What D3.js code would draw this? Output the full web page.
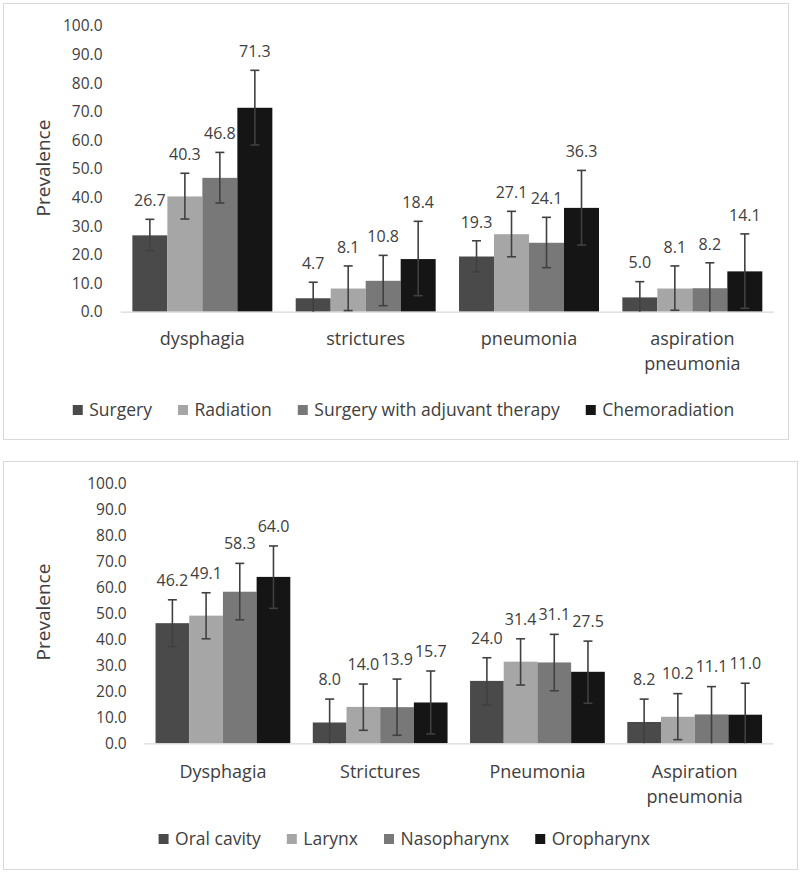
<!DOCTYPE html>
<html>
<head>
<meta charset="utf-8">
<script src="https://cdn.jsdelivr.net/npm/d3@7"></script>
<style>
  html, body { margin: 0; padding: 0; background: #fff; }
  svg { display: block; }
  text { font-family: "Open Sans", "DejaVu Sans", sans-serif; fill: #404040; }
</style>
</head>
<body>
<svg id="chart" width="800" height="873"></svg>
<script>
// ---------- Data ----------
const yTicks = [0, 10, 20, 30, 40, 50, 60, 70, 80, 90, 100];
const yLabel = "Prevalence";

const topCategories = ["dysphagia", "strictures", "pneumonia", "aspiration pneumonia"];
const topSeries = ["Surgery", "Radiation", "Surgery with adjuvant therapy", "Chemoradiation"];
const topSurgery      = [26.7, 4.7, 19.3, 5.0];
const topRadiation    = [40.3, 8.1, 27.1, 8.1];
const topSurgeryAdj   = [46.8, 10.8, 24.1, 8.2];
const topChemo        = [71.3, 18.4, 36.3, 14.1];
const topSurgeryLow   = [21.3, 0.0, 14.0, 0.0];
const topRadiationLow = [32.4, 0.4, 19.2, 0.5];
const topSurgeryAdjLow= [38.0, 2.1, 15.4, 0.0];
const topChemoLow     = [58.3, 5.6, 23.3, 1.2];
const topSurgeryHigh  = [32.3, 10.3, 24.8, 10.5];
const topRadiationHigh= [48.4, 16.0, 35.1, 16.0];
const topSurgeryAdjHigh=[55.7, 19.7, 33.0, 17.1];
const topChemoHigh    = [84.4, 31.6, 49.4, 27.2];

const botCategories = ["Dysphagia", "Strictures", "Pneumonia", "Aspiration pneumonia"];
const botSeries = ["Oral cavity", "Larynx", "Nasopharynx", "Oropharynx"];
const botOral      = [46.2, 8.0, 24.0, 8.2];
const botLarynx    = [49.1, 14.0, 31.4, 10.2];
const botNaso      = [58.3, 13.9, 31.1, 11.1];
const botOro       = [64.0, 15.7, 27.5, 11.0];
const botOralLow   = [37.2, 0.0, 14.8, 0.0];
const botLarynxLow = [40.2, 5.0, 22.4, 1.4];
const botNasoLow   = [47.5, 3.1, 20.2, 0.0];
const botOroLow    = [51.9, 3.6, 15.4, 0.0];
const botOralHigh  = [55.2, 17.0, 32.9, 17.0];
const botLarynxHigh= [57.9, 22.8, 40.2, 19.1];
const botNasoHigh  = [69.2, 24.7, 41.9, 21.8];
const botOroHigh   = [75.9, 27.8, 39.3, 23.1];

const seriesColors = ["#4a4a4a", "#a6a6a6", "#787878", "#151515"];

// ---------- Drawing ----------
const svg = d3.select("#chart");

function drawChart(cfg) {
  const g = svg.append("g");
  // frame
  g.append("rect")
    .attr("x", cfg.frame[0] + 0.5).attr("y", cfg.frame[1] + 0.5)
    .attr("width", cfg.frame[2] - cfg.frame[0]).attr("height", cfg.frame[3] - cfg.frame[1])
    .attr("fill", "#fff").attr("stroke", "#d9d9d9").attr("stroke-width", 1);

  const x0 = d3.scaleBand().domain(cfg.categories).range(cfg.xRange)
    .paddingInner(0.143).paddingOuter(0.0715);
  const x1 = d3.scaleBand().domain(cfg.series).range([0, x0.bandwidth()]).padding(0);
  const y = d3.scaleLinear().domain([0, 100]).range(cfg.yRange);

  // y axis (labels only)
  const yAxis = d3.axisLeft(y).tickValues(yTicks).tickFormat(d3.format(".1f")).tickSize(0).tickPadding(0);
  const ya = g.append("g").attr("transform", `translate(${cfg.yLabelRight},0)`).call(yAxis);
  ya.select(".domain").remove();
  ya.selectAll("text").attr("font-size", "15.5px").attr("fill", "#404040")
    .attr("font-family", "'Open Sans', sans-serif").attr("dy", "0.34em");

  // y title
  g.append("text")
    .attr("transform", `translate(${cfg.yTitle[0]},${cfg.yTitle[1]}) rotate(-90)`)
    .attr("text-anchor", "middle").attr("dy", "0.35em")
    .attr("font-size", "19px").text(yLabel);

  // bars
  const data = [];
  cfg.series.forEach((s, si) => {
    cfg.categories.forEach((c, ci) => {
      data.push({ s, si, c, v: cfg.values[si][ci], lo: cfg.low[si][ci], hi: cfg.high[si][ci] });
    });
  });

  g.append("g").selectAll("rect").data(data).join("rect")
    .attr("x", d => x0(d.c) + x1(d.s))
    .attr("y", d => y(d.v))
    .attr("width", x1.bandwidth())
    .attr("height", d => y(0) - y(d.v))
    .attr("fill", d => seriesColors[d.si]);

  // baseline
  g.append("line")
    .attr("x1", cfg.xRange[0]).attr("x2", cfg.xRange[1])
    .attr("y1", y(0) + 0.5).attr("y2", y(0) + 0.5)
    .attr("stroke", "#d9d9d9").attr("stroke-width", 1.2);

  // error bars
  const eb = g.append("g").attr("stroke", "#404040").attr("stroke-width", 1.6);
  const cx = d => x0(d.c) + x1(d.s) + x1.bandwidth() / 2;
  const cap = 4.5;
  data.forEach(d => {
    eb.append("line").attr("x1", cx(d)).attr("x2", cx(d)).attr("y1", y(d.lo)).attr("y2", y(d.hi));
    eb.append("line").attr("x1", cx(d) - cap).attr("x2", cx(d) + cap).attr("y1", y(d.hi)).attr("y2", y(d.hi));
    if (d.lo > 0.2) {
      eb.append("line").attr("x1", cx(d) - cap).attr("x2", cx(d) + cap).attr("y1", y(d.lo)).attr("y2", y(d.lo));
    }
  });

  // value labels
  g.append("g").selectAll("text").data(data).join("text")
    .attr("x", cx)
    .attr("y", d => y(d.hi) - cfg.labelGap)
    .attr("text-anchor", "middle").attr("dy", "0.36em")
    .attr("font-size", "16px")
    .text(d => d3.format(".1f")(d.v));

  // category labels
  const cl = g.append("g");
  cfg.categories.forEach(c => {
    const t = cl.append("text")
      .attr("x", x0(c) + x0.bandwidth() / 2)
      .attr("y", cfg.catY)
      .attr("text-anchor", "middle")
      .attr("font-size", "18px")
      .attr("dy", "0.33em")
      .text(c);
    if (t.node().getComputedTextLength() > x0.step() * 0.95) {
      const words = c.split(" ");
      t.text(null);
      words.forEach((w, i) => {
        t.append("tspan").attr("x", x0(c) + x0.bandwidth() / 2)
          .attr("y", cfg.catY + i * 25).attr("dy", "0.33em").text(w);
      });
    }
  });

  // legend
  const lg = g.append("g");
  const sq = 10, gapSqText = 6.5, gapItems = 26;
  const items = cfg.series.map((s, i) => {
    const it = lg.append("g");
    it.append("rect").attr("width", sq).attr("height", sq).attr("y", -sq / 2).attr("fill", seriesColors[i]);
    const t = it.append("text").attr("x", sq + gapSqText).attr("dy", "0.35em")
      .attr("font-size", "17.5px").text(s);
    const w = sq + gapSqText + t.node().getComputedTextLength();
    return { it, w };
  });
  const total = d3.sum(items, d => d.w) + gapItems * (items.length - 1);
  let lx = cfg.legendCenter - total / 2;
  items.forEach(d => {
    d.it.attr("transform", `translate(${lx},${cfg.legendY})`);
    lx += d.w + gapItems;
  });
}

drawChart({
  frame: [3, 3, 788, 439],
  categories: topCategories,
  series: topSeries,
  values: [topSurgery, topRadiation, topSurgeryAdj, topChemo],
  low: [topSurgeryLow, topRadiationLow, topSurgeryAdjLow, topChemoLow],
  high: [topSurgeryHigh, topRadiationHigh, topSurgeryAdjHigh, topChemoHigh],
  xRange: [120.7, 774],
  yRange: [311.7, 25.7],
  yLabelRight: 102.5,
  yTitle: [43, 168],
  labelGap: 19,
  catY: 339,
  legendY: 410,
  legendCenter: 403.5
});

drawChart({
  frame: [3, 461, 797, 869],
  categories: botCategories,
  series: botSeries,
  values: [botOral, botLarynx, botNaso, botOro],
  low: [botOralLow, botLarynxLow, botNasoLow, botOroLow],
  high: [botOralHigh, botLarynxHigh, botNasoHigh, botOroHigh],
  xRange: [144.3, 773.3],
  yRange: [743.3, 483.3],
  yLabelRight: 126.7,
  yTitle: [43, 612],
  labelGap: 20,
  catY: 772,
  legendY: 839,
  legendCenter: 404.3
});
</script>
</body>
</html>
